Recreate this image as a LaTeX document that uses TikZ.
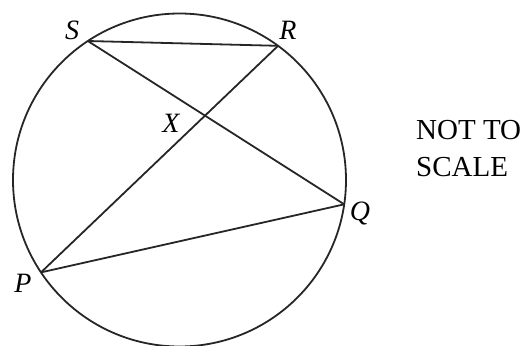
\documentclass[tikz,border=0pt]{standalone}
\usepackage{fontspec}
\setmainfont{Liberation Serif}
\usetikzlibrary{calc,intersections}
\begin{document}
\begin{tikzpicture}[x=1pt,y=1pt,
  geo/.style={line width=1.8pt, black!85},
  lbl/.style={inner sep=0pt, anchor=base, font=\fontsize{28}{30}\selectfont\itshape},
  note/.style={inner sep=0pt, anchor=base west, font=\fontsize{29}{36}\selectfont, align=left}]
\useasboundingbox (0,0) rectangle (524,-345);
\coordinate (O) at (179.5,-180);
\def\rad{166.5}
\draw[geo] (O) circle (\rad);
\coordinate (S) at ($(O)+(123.4:\rad)$);
\coordinate (R) at ($(O)+(53.7:\rad)$);
\coordinate (Q) at ($(O)+(-8.4:\rad)$);
\coordinate (P) at ($(O)+(213.7:\rad)$);
\draw[geo, name path=sq] (S) -- (Q);
\draw[geo, name path=pr] (P) -- (R);
\draw[geo] (S) -- (R);
\draw[geo] (P) -- (Q);
\path[name intersections={of=sq and pr, by=X}];
\node[lbl] (lS) at (72,-40) {S};
\node[lbl] (lR) at (288,-40) {R};
\node[lbl] (lX) at (171,-132) {X};
\node[lbl] (lQ) at (360,-220) {Q};
\node[lbl] (lP) at (23,-292) {P};
\node[note] (n1) at (416,-139.5) {NOT TO};
\node[note] (n2) at (416,-176) {SCALE};
\end{tikzpicture}
\end{document}
